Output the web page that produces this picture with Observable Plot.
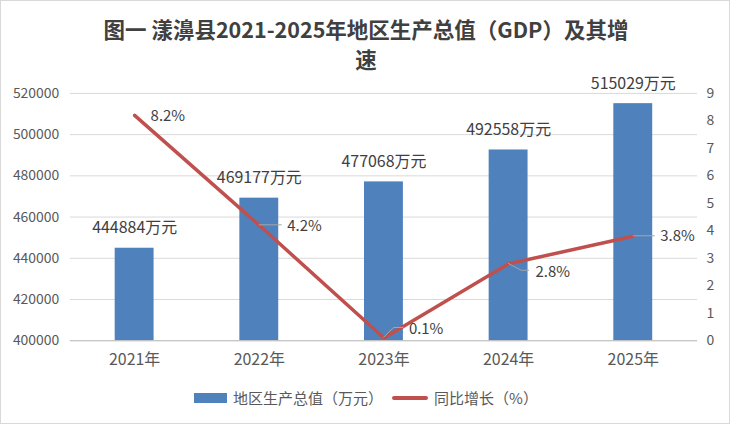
<!DOCTYPE html>
<html>
<head>
<meta charset="utf-8">
<script src="https://cdn.jsdelivr.net/npm/d3@7"></script>
<script src="https://cdn.jsdelivr.net/npm/@observablehq/plot@0.6"></script>
<style>
  html, body { margin: 0; padding: 0; background: #fff; }
  #wrap { position: relative; width: 730px; height: 424px; box-sizing: border-box; border: 1px solid #d9d9d9; overflow: hidden; font-family: "Noto Sans CJK SC", "Noto Sans", sans-serif; }
  .title { position: absolute; left: 0; width: 730px; text-align: center; font-size: 21.5px; line-height: 22px; font-weight: bold; color: #404040; white-space: nowrap; }
  #t1 { top: 17px; }
  #t2 { top: 47px; }
  #chart { position: absolute; top: 60px; left: 0; }
  #legend { position: absolute; top: 386px; left: 0; width: 730px; display: flex; justify-content: center; align-items: center; font-size: 15px; color: #595959; }
  .sw-bar { display: inline-block; width: 33px; height: 10px; background: #4F81BD; margin-right: 6px; }
  .sw-line { display: inline-block; width: 36px; height: 4px; border-radius: 2px; background: #C0504D; margin-left: 9px; margin-right: 6px; }
</style>
</head>
<body>
<div id="wrap">
  <div class="title" id="t1">图一 漾濞县2021-2025年地区生产总值（GDP）及其增</div>
  <div class="title" id="t2">速</div>
  <div id="chart"></div>
  <div id="legend"><span class="sw-bar"></span><span>地区生产总值（万元）</span><span class="sw-line"></span><span>同比增长（%）</span></div>
</div>
<script>
const years = ["2021年", "2022年", "2023年", "2024年", "2025年"];
const gdp = [444884, 469177, 477068, 492558, 515029];
const growth = [8.2, 4.2, 0.1, 2.8, 3.8];
const leftTicks = [400000, 420000, 440000, 460000, 480000, 500000, 520000];
const rightTicks = [0, 1, 2, 3, 4, 5, 6, 7, 8, 9];

const yMin = 400000, yMax = 520000, rMax = 9;
const toY = g => yMin + g / rMax * (yMax - yMin);

const rows = years.map((year, i) => ({year, gdp: gdp[i], growth: growth[i], gy: toY(growth[i])}));

// label placement (pixels): [dx, dy, leader style]
const lblStyle = [
  {dx: 16, dy: 1, leader: null},
  {dx: 28, dy: 1, leader: [[0, 0], [23, 0]]},
  {dx: 25, dy: -9, leader: [[0, 0], [10, -10], [20, -10]]},
  {dx: 27, dy: 8, leader: [[0, 0], [13, 7], [21, 7]]},
  {dx: 27, dy: 0, leader: [[0, 0], [22, 0]]}
];

const textColor = "#404040";
const axisColor = "#595959";

const leaders = (index, scales) => {
  const g = d3.create("svg:g");
  const bw = scales.x.bandwidth ? scales.x.bandwidth() / 2 : 0;
  rows.forEach((r, i) => {
    const L = lblStyle[i].leader;
    if (!L) return;
    const x0 = scales.x(r.year) + bw, y0 = scales.y(r.gy);
    g.append("path")
      .attr("d", d3.line()(L.map(([a, b]) => [x0 + a, y0 + b])))
      .attr("fill", "none").attr("stroke", "#a6a6a6").attr("stroke-width", 1);
  });
  return g.node();
};

const textMarks = rows.map((r, i) => Plot.text([r], {
  x: "year", y: "gy", text: d => d.growth.toFixed(1) + "%",
  textAnchor: "start", dx: lblStyle[i].dx, dy: lblStyle[i].dy,
  fontSize: 15, fill: textColor
}));

const chart = Plot.plot({
  width: 730,
  height: 312,
  marginTop: 32,
  marginBottom: 32,
  marginLeft: 69,
  marginRight: 32,
  style: {fontFamily: '"Noto Sans CJK SC", "Noto Sans", sans-serif', background: "transparent"},
  x: {domain: years, padding: 0, axis: null},
  y: {domain: [yMin, yMax], axis: null},
  marks: [
    Plot.gridY(leftTicks, {stroke: "#d9d9d9", strokeOpacity: 1}),
    Plot.barY(rows, {x: "year", y1: yMin, y2: "gdp", fill: "#4F81BD", insetLeft: 43, insetRight: 43}),
    Plot.ruleY([yMin], {stroke: "#bfbfbf", strokeWidth: 1}),
    Plot.axisY({ticks: leftTicks, anchor: "left", tickSize: 0, tickPadding: 11, tickFormat: d => String(d), fontSize: 14, color: axisColor, label: null}),
    Plot.axisY({ticks: rightTicks.map(toY), anchor: "right", tickSize: 0, tickPadding: 9, tickFormat: v => String(Math.round((v - yMin) / (yMax - yMin) * rMax)), fontSize: 14, color: axisColor, label: null}),
    Plot.axisX({tickSize: 0, tickPadding: 13, fontSize: 16, color: axisColor, label: null}),
    Plot.text(rows, {x: "year", y: "gdp", text: d => d.gdp + "万元", dy: -20, fontSize: 16, fill: textColor}),
    Plot.line(rows, {x: "year", y: "gy", stroke: "#C0504D", strokeWidth: 3.5, strokeLinecap: "round", strokeLinejoin: "round"}),
    leaders,
    ...textMarks
  ]
});
document.getElementById("chart").appendChild(chart);
</script>
</body>
</html>
